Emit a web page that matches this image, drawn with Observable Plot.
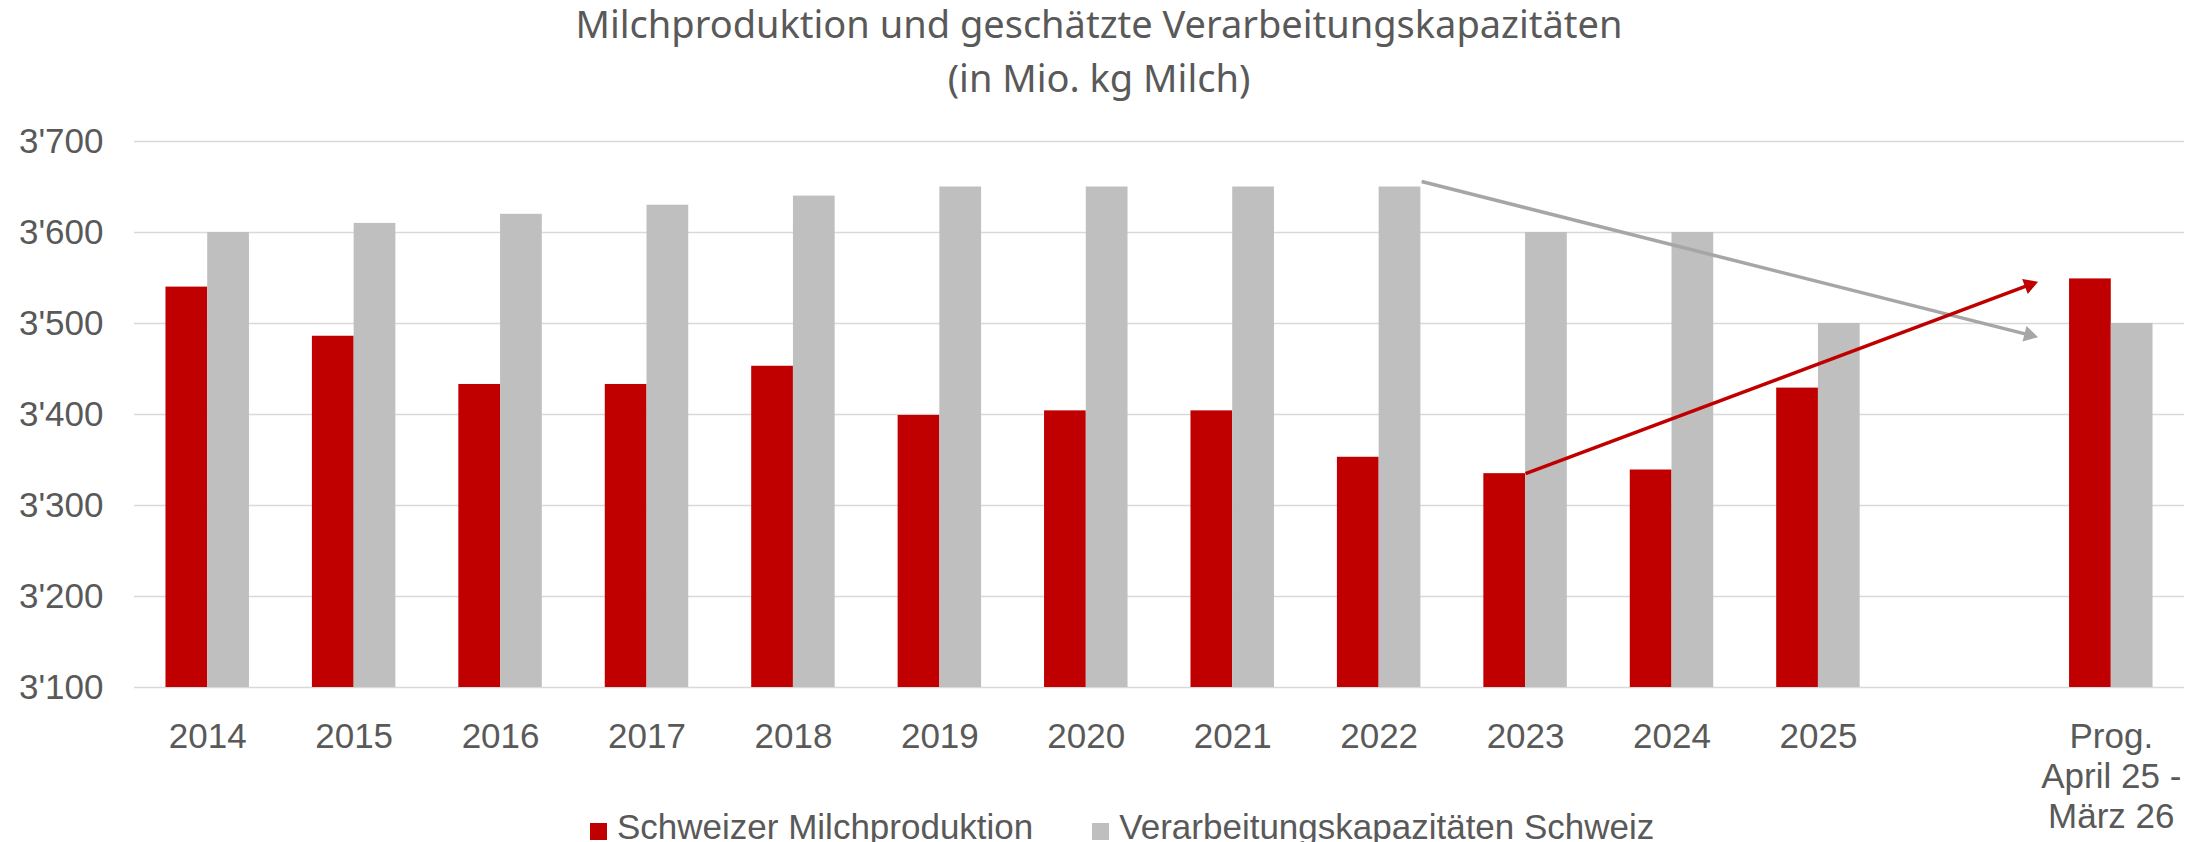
<!DOCTYPE html>
<html>
<head>
<meta charset="utf-8">
<script src="https://cdn.jsdelivr.net/npm/d3@7"></script>
<script src="https://cdn.jsdelivr.net/npm/@observablehq/plot@0.6"></script>
<style>
  html, body { margin: 0; padding: 0; background: #fff; overflow: hidden; }
  #wrap { position: relative; width: 2198px; height: 842px; }
  #chart { position: absolute; left: 0; top: 0; }
  #title { position: absolute; left: 0; top: -4px; width: 2198px; text-align: center;
    font-family: "Noto Sans", sans-serif; font-size: 38px; line-height: 54px; color: #595959; }
  #legend { position: absolute; left: 590px; top: 807px; display: flex; align-items: center;
    font-family: "Liberation Sans", Arial, sans-serif; font-size: 35px; line-height: 40px; color: #595959; }
  .item { display: flex; align-items: center; margin-right: 59px; }
  .sw { width: 17px; height: 17px; margin-right: 10px; margin-top: 8px; }
</style>
</head>
<body>
<div id="wrap">
  <div id="chart"></div>
  <div id="title">Milchproduktion und geschätzte Verarbeitungskapazitäten<br>(in Mio. kg Milch)</div>
  <div id="legend"></div>
</div>
<script>
// ---- data ----
const categories = ["2014","2015","2016","2017","2018","2019","2020","2021","2022","2023","2024","2025","","Prog.\nApril 25 -\nMärz 26"];
const milchproduktion = [3540, 3486, 3433, 3433, 3453, 3399, 3404, 3404, 3353, 3335, 3339, 3429, null, 3549];
const kapazitaeten   = [3600, 3610, 3620, 3630, 3640, 3650, 3650, 3650, 3650, 3600, 3600, 3500, null, 3500];
const seriesNames = ["Schweizer Milchproduktion", "Verarbeitungskapazitäten Schweiz"];
const yTicks = [3100, 3200, 3300, 3400, 3500, 3600, 3700];
// trend arrows (category-index position, value)
const arrowSeries = ["Verarbeitungskapazitäten Schweiz", "Schweizer Milchproduktion"];
const arrowFrom = [[8.29, 3656], [9.0, 3335]];
const arrowTo   = [[12.5, 3485], [12.5, 3546]];

// ---- styling ----
const colors = {"Schweizer Milchproduktion": "#C00000", "Verarbeitungskapazitäten Schweiz": "#BFBFBF"};
const arrowColors = {"Schweizer Milchproduktion": "#C00000", "Verarbeitungskapazitäten Schweiz": "#A6A6A6"};
const barW = 0.285;
const textColor = "#595959";
const W = 2198, H = 842, mT = 141, mB = 155, mL = 134, mR = 14;
const headR = 6;

const xDomain = [-0.5, categories.length - 0.5];
const yDomain = [yTicks[0], yTicks[yTicks.length - 1]];

const rows = [];
categories.forEach((c, i) => {
  if (milchproduktion[i] != null) rows.push({i, series: seriesNames[0], value: milchproduktion[i], x1: i - barW, x2: i});
  if (kapazitaeten[i] != null) rows.push({i, series: seriesNames[1], value: kapazitaeten[i], x1: i, x2: i + barW});
});

// arrow geometry: filled triangular head whose tip sits at the end point
const xs = Plot.scale({x: {type: "linear", domain: xDomain, range: [mL, W - mR]}});
const ys = Plot.scale({y: {type: "linear", domain: yDomain, range: [H - mB, mT]}});
const arrows = arrowSeries.map((s, k) => {
  const [ax1, ay1] = arrowFrom[k], [ax2, ay2] = arrowTo[k];
  const p1 = [xs.apply(ax1), ys.apply(ay1)], p2 = [xs.apply(ax2), ys.apply(ay2)];
  const len = Math.hypot(p2[0] - p1[0], p2[1] - p1[1]);
  const ux = (p2[0] - p1[0]) / len, uy = (p2[1] - p1[1]) / len;
  const tipDist = 2 * Math.sqrt(headR * headR * Math.PI / (3 * Math.sqrt(3)));
  const cx = p2[0] - ux * tipDist, cy = p2[1] - uy * tipDist;
  return {series: s, x1: ax1, y1: ay1, hx: xs.invert(cx), hy: ys.invert(cy),
          rotate: Math.atan2(ux, -uy) * 180 / Math.PI};
});

const loc = d3.formatLocale({decimal: ".", thousands: "'", grouping: [3], currency: ["", ""]});
const fmt = loc.format(",");
const xTicks = categories.map((c, i) => i).filter(i => categories[i] !== "");

const chart = Plot.plot({
  width: W,
  height: H,
  marginTop: mT,
  marginBottom: mB,
  marginLeft: mL,
  marginRight: mR,
  style: {fontFamily: "'Liberation Sans', Arial, sans-serif", fontSize: "35px", color: textColor, background: "transparent"},
  x: {type: "linear", domain: xDomain},
  y: {domain: yDomain},
  marks: [
    Plot.gridY({ticks: yTicks, stroke: "#d9d9d9", strokeOpacity: 1, strokeWidth: 1.5}),
    Plot.rect(rows, {x1: "x1", x2: "x2", y1: () => yTicks[0], y2: "value", fill: d => colors[d.series]}),
    Plot.link(arrows, {x1: "x1", y1: "y1", x2: "hx", y2: "hy", stroke: d => arrowColors[d.series], strokeWidth: 3.5}),
    Plot.dot(arrows, {x: "hx", y: "hy", symbol: "triangle", r: headR, rotate: "rotate", fill: d => arrowColors[d.series], stroke: "none"}),
    Plot.axisY({ticks: yTicks, tickSize: 0, tickPadding: 31, tickFormat: fmt, label: null, fontSize: 35, color: textColor}),
    Plot.axisX({ticks: xTicks, tickSize: 0, tickPadding: 32, tickFormat: i => categories[i], label: null, fontSize: 35, lineHeight: 1.143, color: textColor})
  ]
});
document.getElementById("chart").appendChild(chart);

const legend = document.getElementById("legend");
seriesNames.forEach(s => {
  const it = document.createElement("div");
  it.className = "item";
  const sw = document.createElement("span");
  sw.className = "sw";
  sw.style.background = colors[s];
  const t = document.createElement("span");
  t.textContent = s;
  it.appendChild(sw); it.appendChild(t);
  legend.appendChild(it);
});
</script>
</body>
</html>
